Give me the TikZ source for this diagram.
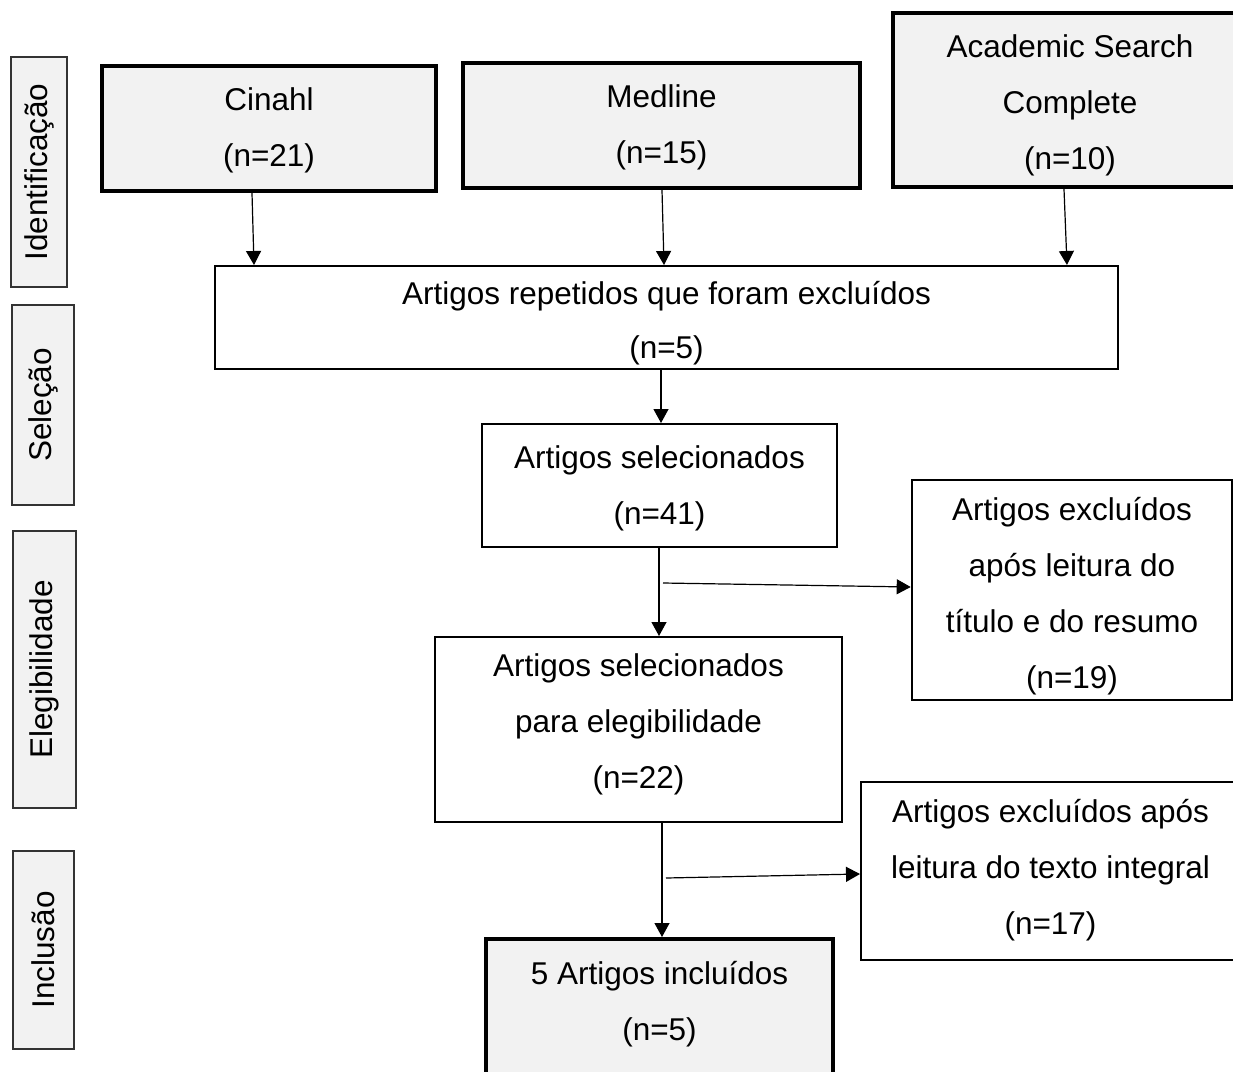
\documentclass[tikz,border=0pt]{standalone}
\usepackage{fontspec}
\setmainfont{Liberation Sans}
\usetikzlibrary{arrows.meta}
\definecolor{boxgray}{HTML}{F2F2F2}
\begin{document}
\begin{tikzpicture}[x=0.5pt,y=-0.5pt,
  txt/.style={font=\fontsize{15.75pt}{28pt}\selectfont, align=center, inner sep=0pt},
  dbbox/.style={txt, rectangle, draw=black, line width=2pt, fill=boxgray},
  thinbox/.style={txt, rectangle, draw=black, line width=1pt},
  side/.style={txt, rectangle, draw=black!80, line width=0.8pt, fill=boxgray, rotate=90},
  fb/.style={text height=#1, text depth=0pt},
  arr/.style={-{Triangle[length=7pt,width=7.5pt]}, line width=0.6pt}]
\clip (0,0) rectangle (1233,1072);
\fill[white] (0,0) rectangle (1233,1072);

% phase labels
\node[side, minimum width=115pt, minimum height=28pt] (ident) at (39,172) {Identificação};
\node[side, minimum width=100pt, minimum height=31pt] (sel) at (43,405) {Seleção};
\node[side, minimum width=138.5pt, minimum height=31.5pt] (elegl) at (44.5,669.5) {Elegibilidade};
\node[side, minimum width=99pt, minimum height=30.5pt] (incll) at (43.5,950) {Inclusão};

% sources
\node[dbbox, fb=37.5pt, minimum width=167pt, minimum height=62.5pt] (cinahl) at (269,128.5) {Cinahl\\(n=21)};
\node[dbbox, fb=37.5pt, minimum width=198.5pt, minimum height=62.5pt] (medline) at (661.5,125.5) {Medline\\(n=15)};
\node[dbbox, fb=69pt, minimum width=177pt, minimum height=87pt] (academic) at (1070,100) {Academic Search\\Complete\\(n=10)};

% flow
\node[thinbox, fb=40.5pt, font=\fontsize{15.75pt}{27pt}\selectfont, minimum width=451.5pt, minimum height=51.5pt] (repeated) at (666.5,317.5) {Artigos repetidos que foram excluídos\\(n=5)};
\node[thinbox, fb=38.5pt, minimum width=177.5pt, minimum height=61.5pt] (sel41) at (659.5,485.5) {Artigos selecionados\\(n=41)};
\node[thinbox, fb=58.5pt, minimum width=203.5pt, minimum height=92.5pt] (eleg) at (638.5,729.5) {Artigos selecionados\\para elegibilidade\\(n=22)};
\node[thinbox, fb=98.5pt, line width=1.3pt, minimum width=160pt, minimum height=110pt] (excl1) at (1072,590) {Artigos excluídos\\após leitura do\\título e do resumo\\(n=19)};
\node[thinbox, fb=63pt, minimum width=189.5pt, minimum height=89pt] (excl2) at (1050.5,871) {Artigos excluídos após\\leitura do texto integral\\(n=17)};
\node[dbbox, fb=1pt, anchor=north, minimum width=173.5pt, minimum height=100pt] (incl) at (659.5,937) {5 Artigos incluídos\\(n=5)};

% connectors
\draw[arr] ([xshift=-8.5pt]cinahl.south) -- ([xshift=-206.25pt]repeated.north);
\draw[arr] ([xshift=0.25pt]medline.south) -- ([xshift=-1.25pt]repeated.north);
\draw[arr] ([xshift=-3pt]academic.south) -- ([xshift=200.25pt]repeated.north);
\draw[arr] ([xshift=-2.75pt]repeated.south) -- ([xshift=0.75pt]sel41.north);
\draw[arr] ([xshift=-0.25pt]sel41.south) -- ([xshift=10.25pt]eleg.north);
\coordinate (b1) at (663,583);
\draw[arr] (b1) -- ([yshift=1.5pt]excl1.west);
\draw[arr] ([xshift=11.75pt]eleg.south) -- ([xshift=1.25pt]incl.north);
\coordinate (b2) at (666,878);
\draw[arr] (b2) -- ([yshift=-1.5pt]excl2.west);
\end{tikzpicture}
\end{document}
